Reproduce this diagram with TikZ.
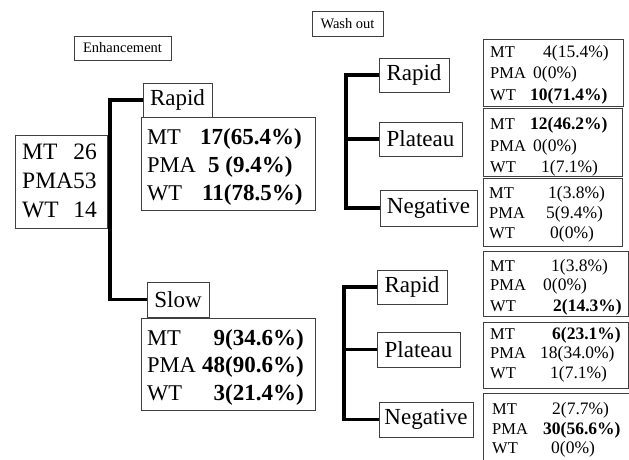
\documentclass[tikz,border=0pt]{standalone}
\usepackage{fontspec}
\setmainfont{Liberation Serif}
\usetikzlibrary{fit}
\newcommand{\szH}{\fontsize{14.5}{16}\selectfont}
\newcommand{\szL}{\fontsize{23}{26}\selectfont}
\newcommand{\szT}{\fontsize{23.5}{26}\selectfont}
\newcommand{\szBL}{\fontsize{22.5}{26}\selectfont}
\newcommand{\szBV}{\fontsize{23}{27}\selectfont\bfseries}
\newcommand{\szSL}{\fontsize{16.5}{19}\selectfont}
\newcommand{\szSV}{\fontsize{17.5}{20}\selectfont}
\begin{document}
\begin{tikzpicture}[x=1pt,y=-1pt,
  frame/.style={draw=black!75,line width=0.8pt,inner sep=0pt},
  fbox/.style={frame,fit={#1}},
  hdr/.style={frame,font=\szH,align=center},
  lbl/.style={frame,font=\szL,align=center},
  txt/.style={anchor=base west,inner sep=0pt},
  txtr/.style={anchor=base east,inner sep=0pt},
  conn/.style={line width=3.5pt,line join=miter,line cap=butt}]
\useasboundingbox (0,0) rectangle (629,459);
\fill[white] (0,0) rectangle (629,459);

% headers
\node[hdr,minimum width=97pt,minimum height=24pt] (enh) at (122.5,48) {Enhancement};
\node[hdr,minimum width=71pt,minimum height=25pt] (wash) at (347.5,23.5) {Wash out};

% total box
\node[fbox={(15,135)(107,228)}] (tot) {};
\node[txt,font=\szT] (totMT) at (22,159) {MT};
\node[txtr,font=\szT] (totMTv) at (97,159) {26};
\node[txt,font=\szT] (totPMA) at (22,188) {PMA53};
\node[txt,font=\szT] (totWT) at (22,217) {WT};
\node[txtr,font=\szT] (totWTv) at (97,217) {14};

% enhancement labels
\node[lbl,minimum width=69pt,minimum height=34pt] (rapidE) at (177.5,100) {Rapid};
\node[lbl,minimum width=62pt,minimum height=35pt] (slowE) at (178,299.5) {Slow};

% enhancement stats
\node[fbox={(141,117)(315,210)}] (sR) {};
\node[txt,font=\szBL] (sR1) at (147,144) {MT};
\node[txt,font=\szBV] (sR1v) at (200,144) {17(65.4\%)};
\node[txt,font=\szBL] (sR2) at (147,172) {PMA};
\node[txt,font=\szBV] (sR2v) at (208,172) {5 (9.4\%)};
\node[txt,font=\szBL] (sR3) at (147,200) {WT};
\node[txt,font=\szBV] (sR3v) at (202,200) {11(78.5\%)};

\node[fbox={(141,318)(315,410)}] (sS) {};
\node[txt,font=\szBL] (sS1) at (147,345) {MT};
\node[txtr,font=\szBV] (sS1v) at (304,345) {9(34.6\%)};
\node[txt,font=\szBL] (sS2) at (147,372) {PMA};
\node[txtr,font=\szBV] (sS2v) at (304,372) {48(90.6\%)};
\node[txt,font=\szBL] (sS3) at (147,400) {WT};
\node[txtr,font=\szBV] (sS3v) at (304,400) {3(21.4\%)};

% wash-out labels
\node[lbl,minimum width=70pt,minimum height=34pt] (r1) at (414,75) {Rapid};
\node[lbl,minimum width=83pt,minimum height=34pt] (p1) at (420.5,139) {Plateau};
\node[lbl,minimum width=97pt,minimum height=36pt] (n1) at (428.5,208) {Negative};
\node[lbl,minimum width=70pt,minimum height=34pt] (r2) at (412,287) {Rapid};
\node[lbl,minimum width=83pt,minimum height=35pt] (p2) at (418.5,349.5) {Plateau};
\node[lbl,minimum width=94pt,minimum height=35pt] (n2) at (426,419.5) {Negative};

% small stats boxes
\node[fbox={(483,39)(623,106)}] (b1) {};
\node[txt,font=\szSL] (b1a) at (490,57) {MT};
\node[txt,font=\szSV] (b1av) at (543,57) {4(15.4\%)};
\node[txt,font=\szSL] (b1b) at (490,78) {PMA};
\node[txt,font=\szSV] (b1bv) at (533,78) {0(0\%)};
\node[txt,font=\szSL] (b1c) at (490,100) {WT};
\node[txt,font=\szSV\bfseries] (b1cv) at (530,100) {10(71.4\%)};

\node[fbox={(483,108)(622,176)}] (b2) {};
\node[txt,font=\szSL] (b2a) at (490,129) {MT};
\node[txt,font=\szSV\bfseries] (b2av) at (530,129) {12(46.2\%)};
\node[txt,font=\szSL] (b2b) at (490,151) {PMA};
\node[txt,font=\szSV] (b2bv) at (533,151) {0(0\%)};
\node[txt,font=\szSL] (b2c) at (490,172) {WT};
\node[txt,font=\szSV] (b2cv) at (541,172) {1(7.1\%)};

\node[fbox={(483,178)(622,246)}] (b3) {};
\node[txt,font=\szSL] (b3a) at (489,198) {MT};
\node[txt,font=\szSV] (b3av) at (548,198) {1(3.8\%)};
\node[txt,font=\szSL] (b3b) at (489,218) {PMA};
\node[txt,font=\szSV] (b3bv) at (546,218) {5(9.4\%)};
\node[txt,font=\szSL] (b3c) at (489,238) {WT};
\node[txt,font=\szSV] (b3cv) at (550,238) {0(0\%)};

\node[fbox={(483,251)(628,316)}] (b4) {};
\node[txt,font=\szSL] (b4a) at (490,271) {MT};
\node[txt,font=\szSV] (b4av) at (551,271) {1(3.8\%)};
\node[txt,font=\szSL] (b4b) at (490,290) {PMA};
\node[txt,font=\szSV] (b4bv) at (543,290) {0(0\%)};
\node[txt,font=\szSL] (b4c) at (490,311) {WT};
\node[txt,font=\szSV\bfseries] (b4cv) at (553,311) {2(14.3\%)};

\node[fbox={(483,322)(628,388)}] (b5) {};
\node[txt,font=\szSL] (b5a) at (490,339) {MT};
\node[txt,font=\szSV\bfseries] (b5av) at (552,339) {6(23.1\%)};
\node[txt,font=\szSL] (b5b) at (490,358) {PMA};
\node[txt,font=\szSV] (b5bv) at (540,358) {18(34.0\%)};
\node[txt,font=\szSL] (b5c) at (490,378) {WT};
\node[txt,font=\szSV] (b5cv) at (550,378) {1(7.1\%)};

\node[fbox={(483,393)(645,475)}] (b6) {};
\node[txt,font=\szSL] (b6a) at (492,414) {MT};
\node[txt,font=\szSV] (b6av) at (552,414) {2(7.7\%)};
\node[txt,font=\szSL] (b6b) at (492,434) {PMA};
\node[txt,font=\szSV\bfseries] (b6bv) at (543,434) {30(56.6\%)};
\node[txt,font=\szSL] (b6c) at (492,453) {WT};
\node[txt,font=\szSV] (b6cv) at (551,453) {0(0\%)};

% connectors
\coordinate (ej) at (110,0);
\draw[conn] (rapidE.west) -| (ej |- slowE.west) -- (slowE.west);
\coordinate (w1) at (346,0);
\draw[conn] (r1.west) -| (w1 |- n1.west) -- (n1.west);
\draw[conn] (w1 |- p1.west) -- (p1.west);
\coordinate (w2) at (344,0);
\draw[conn] (r2.west) -| (w2 |- n2.west) -- (n2.west);
\draw[conn] (w2 |- p2.west) -- (p2.west);
\end{tikzpicture}
\end{document}
